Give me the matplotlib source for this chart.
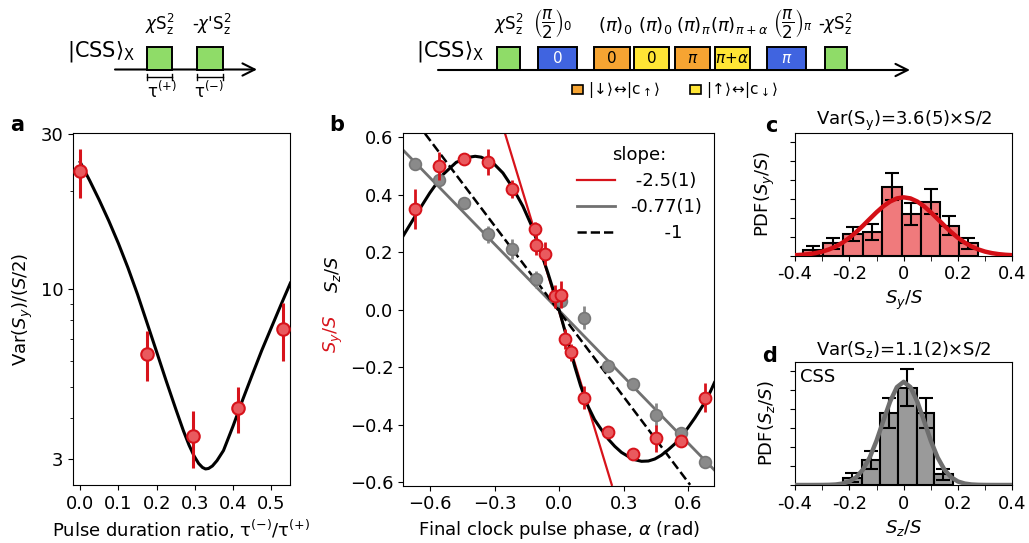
import matplotlib
matplotlib.use("Agg")
from matplotlib import pyplot
from matplotlib.patches import Rectangle
import matplotlib.ticker as ticker
import numpy

# ---------- panel a : squeezing vs pulse duration ratio ----------
a_ratio = [0.0, 0.175, 0.294, 0.412, 0.530]
a_var = [23.1, 6.31, 3.52, 4.31, 7.54]
a_var_lo = [19.1, 5.2, 2.81, 3.61, 6.01]
a_var_hi = [27.0, 7.41, 4.21, 4.99, 9.02]
a_fit_x = [0.0, 0.025, 0.05, 0.075, 0.1, 0.125, 0.15, 0.175, 0.2, 0.225, 0.25, 0.27, 0.285,
           0.298, 0.31, 0.32, 0.328, 0.336, 0.346, 0.358, 0.375, 0.4, 0.425, 0.45, 0.475,
           0.5, 0.525, 0.55]
a_fit_y = [24.55, 21.53, 18.75, 16.18, 13.80, 11.61, 9.62, 7.85, 6.40, 5.21, 4.27, 3.66, 3.30,
           3.06, 2.90, 2.82, 2.79, 2.80, 2.85, 2.96, 3.18, 3.78, 4.55, 5.43, 6.46,
           7.59, 8.91, 10.42]

# ---------- panel b : response to final pulse phase ----------
b_alpha = [-0.670, -0.557, -0.442, -0.332, -0.217, -0.112, -0.109, -0.065, -0.019,
           0.008, 0.028, 0.056, 0.118, 0.229, 0.343, 0.451, 0.567, 0.679]
b_sy = [0.350, 0.500, 0.524, 0.515, 0.420, 0.281, 0.225, 0.195, 0.046,
        0.052, -0.101, -0.148, -0.306, -0.427, -0.502, -0.448, -0.456, -0.306]
b_sy_err = [0.07, 0.05, 0.02, 0.045, 0.03, 0.025, 0.035, 0.04, 0.04,
            0.047, 0.035, 0.03, 0.04, 0.01, 0.02, 0.047, 0.01, 0.052]
bz_alpha = [-0.670, -0.557, -0.442, -0.332, -0.217, -0.107, 0.008,
            0.118, 0.229, 0.343, 0.451, 0.567, 0.679]
b_sz = [0.506, 0.451, 0.372, 0.262, 0.212, 0.106, 0.031,
        -0.028, -0.195, -0.260, -0.366, -0.430, -0.531]
b_sz_err = [0.01, 0.01, 0.02, 0.03, 0.035, 0.03, 0.02,
            0.04, 0.01, 0.015, 0.04, 0.01, 0.015]
b_fit_x = [-0.725, -0.70, -0.664, -0.601, -0.540, -0.478, -0.416, -0.39, -0.362, -0.307,
           -0.261, -0.215, -0.168, -0.130, -0.091, -0.052, -0.013, 0.0, 0.035, 0.073, 0.10,
           0.135, 0.165, 0.197, 0.23, 0.259, 0.29, 0.321, 0.355, 0.383, 0.415, 0.445, 0.475,
           0.507, 0.54, 0.569, 0.60, 0.631, 0.665, 0.693, 0.722]
b_fit_y = [0.256, 0.287, 0.331, 0.406, 0.470, 0.513, 0.531, 0.534, 0.531, 0.511,
           0.476, 0.424, 0.360, 0.296, 0.215, 0.128, 0.035, 0.0, -0.095, -0.198, -0.265,
           -0.337, -0.383, -0.418, -0.452, -0.476, -0.497, -0.511, -0.523, -0.528, -0.527,
           -0.520, -0.507, -0.488, -0.466, -0.441, -0.41, -0.377, -0.337, -0.302, -0.254]
slope_labels = [" -2.5(1)", "-0.77(1)", "      -1"]
red_line_x = [-0.251, 0.245]
red_line_y = [0.613, -0.61]
grey_line_x = [-0.724, 0.721]
grey_line_y = [0.555, -0.558]
ref_line_x = [-0.623, 0.609]
ref_line_y = [0.613, -0.61]

# ---------- panel c / d : histograms ----------
c_edges = [-0.369, -0.296, -0.222, -0.151, -0.079, -0.007, 0.064, 0.134, 0.202, 0.275]
c_pdf = [0.3, 0.65, 1.12, 1.26, 3.63, 2.19, 2.84, 1.58, 0.65]
c_err = [0.22, 0.3, 0.37, 0.42, 0.72, 0.57, 0.67, 0.5, 0.3]
d_edges = [-0.222, -0.155, -0.087, -0.020, 0.048, 0.113, 0.180]
d_pdf = [0.39, 1.32, 3.81, 5.14, 3.81, 0.56]
d_err = [0.25, 0.45, 0.8, 0.95, 0.8, 0.3]
g_x = [-0.4, -0.375, -0.35, -0.325, -0.3, -0.275, -0.25, -0.225, -0.2, -0.175, -0.15,
       -0.125, -0.1, -0.075, -0.05, -0.025, 0.0, 0.025, 0.05, 0.075, 0.1, 0.125, 0.15,
       0.175, 0.2, 0.225, 0.25, 0.275, 0.3, 0.325, 0.35, 0.375, 0.4]
c_gauss = [0.027, 0.048, 0.082, 0.135, 0.214, 0.328, 0.483, 0.687, 0.940, 1.240, 1.577,
           1.933, 2.284, 2.599, 2.851, 3.014, 3.07, 3.014, 2.851, 2.599, 2.284, 1.933, 1.577,
           1.240, 0.940, 0.687, 0.483, 0.328, 0.214, 0.135, 0.082, 0.048, 0.027]
d_gauss = [0.0, 0.0, 0.0, 0.001, 0.003, 0.009, 0.027, 0.075, 0.183, 0.406, 0.81,
           1.45, 2.33, 3.38, 4.40, 5.16, 5.44, 5.16, 4.40, 3.38, 2.33, 1.45, 0.81,
           0.406, 0.183, 0.075, 0.027, 0.009, 0.003, 0.001, 0.0, 0.0, 0.0]
hist_ticks = [-0.4, -0.2, 0, 0.2, 0.4]
hist_ticklabels = ["-0.4", "-0.2", "0", "0.2", "0.4"]

RED = "#d7131b"
RED_FACE = "#e95a5e"
GREEN = "#8fdc68"
BLUE = "#4064e0"
ORANGE = "#f6a432"
YELLOW = "#ffe535"

pyplot.rcParams["font.size"] = 13

fig = pyplot.figure(figsize=(10.29, 5.43), dpi=100)

# ---------- schematic on top (pixel coordinates) ----------
sk = fig.add_axes([0, 0, 1, 1])
sk.set_xlim(0, 1029)
sk.set_ylim(543, 0)
sk.axis("off")

def box(x0, x1, color, text="", tcolor="k"):
    sk.add_patch(Rectangle((x0, 46.7), x1 - x0, 23, facecolor=color, edgecolor="k", lw=1.4, zorder=3))
    if text:
        sk.text((x0 + x1) / 2, 58.5, text, ha="center", va="center", color=tcolor, fontsize=11, zorder=4)

# left sequence
sk.annotate("", xy=(257, 69.5), xytext=(115, 69.5),
            arrowprops=dict(arrowstyle="->", lw=1.5, mutation_scale=22, shrinkA=0, shrinkB=0))
sk.text(67, 52, r"$|\mathrm{CSS}\rangle_\mathrm{X}$", fontsize=15, ha="left", va="center")
box(146.7, 172.3, GREEN)
box(196.7, 222.7, GREEN)
sk.text(160, 24, r"$\chi\mathrm{S}_\mathrm{z}^2$", fontsize=12, ha="center", va="center")
sk.text(212, 24, r"-$\chi$'$\mathrm{S}_\mathrm{z}^2$", fontsize=12, ha="center", va="center")
for x0, x1 in [(146.7, 172.3), (196.7, 222.7)]:
    sk.plot([x0, x1], [76.7, 76.7], color="k", lw=1)
    sk.plot([x0, x0], [74, 79.5], color="k", lw=1)
    sk.plot([x1, x1], [74, 79.5], color="k", lw=1)
sk.text(162, 91, r"$\mathrm{\tau}^{(+)}$", fontsize=12, ha="center", va="center")
sk.text(209, 91, r"$\mathrm{\tau}^{(\mathrm{-})}$", fontsize=12, ha="center", va="center")

# right sequence
sk.annotate("", xy=(910, 70), xytext=(438, 70),
            arrowprops=dict(arrowstyle="->", lw=1.5, mutation_scale=22, shrinkA=0, shrinkB=0))
sk.text(416, 52, r"$|\mathrm{CSS}\rangle_\mathrm{X}$", fontsize=15, ha="left", va="center")
box(496.7, 520, GREEN)
box(538.3, 577.3, BLUE, "0", "w")
box(594.3, 630, ORANGE, "0")
box(634.3, 669.3, YELLOW, "0")
box(675, 710, ORANGE, r"$\pi$")
box(715, 750, YELLOW, r"$\pi\!+\!\alpha$")
box(766.7, 806, BLUE, r"$\pi$", "w")
box(825, 847.3, GREEN)
sk.text(509, 24, r"$\chi\mathrm{S}_\mathrm{z}^2$", fontsize=12, ha="center", va="center")
sk.text(553, 23, r"$\left(\dfrac{\pi}{2}\right)_0$", fontsize=12, ha="center", va="center")
sk.text(615, 25, r"$(\pi)_0$", fontsize=13, ha="center", va="center")
sk.text(655, 25, r"$(\pi)_0$", fontsize=13, ha="center", va="center")
sk.text(693, 25, r"$(\pi)_\pi$", fontsize=13, ha="center", va="center")
sk.text(739, 25, r"$(\pi)_{\pi+\alpha}$", fontsize=13, ha="center", va="center")
sk.text(793, 23, r"$\left(\dfrac{\pi}{2}\right)_\pi$", fontsize=12, ha="center", va="center")
sk.text(835, 24, r"-$\chi\mathrm{S}_\mathrm{z}^2$", fontsize=12, ha="center", va="center")
sk.add_patch(Rectangle((571.7, 85), 11, 9, facecolor=ORANGE, edgecolor="k", lw=1.2))
sk.text(588, 89.5, r"$|\!\downarrow\!\rangle\!\leftrightarrow\!|\mathrm{c}_{\uparrow}\rangle$",
        fontsize=11, ha="left", va="center")
sk.add_patch(Rectangle((690, 85), 11, 9, facecolor=YELLOW, edgecolor="k", lw=1.2))
sk.text(706, 89.5, r"$|\!\uparrow\!\rangle\!\leftrightarrow\!|\mathrm{c}_{\downarrow}\rangle$",
        fontsize=11, ha="left", va="center")

# ---------- panel a ----------
axa = fig.add_axes([0.0709, 0.1068, 0.2109, 0.6483])
axa.plot(a_fit_x, a_fit_y, color="k", lw=2.2, zorder=2)
a_yerr = [numpy.array(a_var) - numpy.array(a_var_lo), numpy.array(a_var_hi) - numpy.array(a_var)]
axa.errorbar(a_ratio, a_var, yerr=a_yerr, fmt="o", ms=9, mfc=RED_FACE, mec=RED, mew=1.5,
             ecolor=RED, elinewidth=2.2, capsize=0, zorder=3)
axa.set_yscale("log")
axa.set_ylim(2.49, 30.2)
axa.set_xlim(-0.019, 0.549)
axa.set_yticks([3, 10, 30])
axa.set_yticklabels(["3", "10", "30"])
axa.yaxis.set_minor_formatter(ticker.NullFormatter())
axa.set_xticks([0.0, 0.1, 0.2, 0.3, 0.4, 0.5])
axa.set_ylabel(r"Var$(S_y)/(S/2)$")
axa.set_xlabel(r"Pulse duration ratio, $\mathrm{\tau}^{(\mathrm{-})}/\mathrm{\tau}^{(+)}$")
fig.text(17, 543 - 125, "a", fontsize=15, fontweight="bold", ha="center", va="center",
         transform=None)

# ---------- panel b ----------
axb = fig.add_axes([0.3919, 0.1055, 0.3022, 0.649])
axb.plot(red_line_x, red_line_y, color=RED, lw=1.6, label=slope_labels[0], zorder=2)
axb.plot(grey_line_x, grey_line_y, color="#707070", lw=2, label=slope_labels[1], zorder=2)
axb.plot(ref_line_x, ref_line_y, color="k", lw=1.8, ls="--", label=slope_labels[2], zorder=2)
axb.plot(b_fit_x, b_fit_y, color="k", lw=2.2, zorder=2)
axb.errorbar(bz_alpha, b_sz, yerr=b_sz_err, fmt="o", ms=8.5, mfc="#8a8a8a", mec="#777777",
             mew=1.2, ecolor="#888888", elinewidth=2, zorder=3)
axb.errorbar(b_alpha, b_sy, yerr=b_sy_err, fmt="o", ms=8.5, mfc=RED_FACE, mec=RED,
             mew=1.4, ecolor=RED, elinewidth=2, zorder=4)
axb.set_xlim(-0.724, 0.721)
axb.set_ylim(-0.613, 0.614)
axb.set_xticks([-0.6, -0.3, 0.0, 0.3, 0.6])
axb.set_yticks([-0.6, -0.4, -0.2, 0.0, 0.2, 0.4, 0.6])
axb.set_xlabel(r"Final clock pulse phase, $\alpha$ (rad)")
leg = axb.legend(title="slope:", frameon=False, loc="upper right", fontsize=13,
                 title_fontsize=13, handlelength=2.1, borderaxespad=0.3, labelspacing=0.45)
axb.text(-0.225, 0.60, r"$S_z/S$", rotation=90, ha="center", va="center",
         transform=axb.transAxes, fontsize=13)
axb.text(-0.225, 0.43, r"$S_y/S$", rotation=90, ha="center", va="center",
         transform=axb.transAxes, fontsize=13, color=RED)
fig.text(337, 543 - 125, "b", fontsize=15, fontweight="bold", ha="center", va="center",
         transform=None)

# ---------- panel c ----------
def hist_panel(ax, edges, pdf, err, color, gauss, gcolor):
    left = numpy.array(edges[:-1])
    width = numpy.diff(edges)
    ax.bar(left, pdf, width=width, align="edge", color=color, edgecolor="k", lw=1.5, zorder=2)
    ax.errorbar(left + width / 2, pdf, yerr=err, fmt="none", ecolor="k", elinewidth=1.5,
                capsize=5, capthick=1.5, zorder=3)
    ax.plot(g_x, gauss, color=gcolor, lw=3.2, zorder=4)
    ax.set_xlim(-0.4, 0.4)
    ax.set_ylim(0, 6.47)
    ax.set_xticks(hist_ticks)
    ax.set_xticklabels(hist_ticklabels)
    ax.set_xticks([-0.3, -0.1, 0.1, 0.3], minor=True)
    ax.tick_params(which="minor", length=3.5)
    ax.set_yticks(range(7))
    ax.set_yticklabels([])

axc = fig.add_axes([0.7726, 0.5291, 0.2112, 0.2265])
hist_panel(axc, c_edges, c_pdf, c_err, "#f07a7c", c_gauss, "#d40f16")
axc.set_title(r"Var(S$_\mathrm{y}$)=3.6(5)×S/2", fontsize=13, pad=5)
axc.set_xlabel(r"$S_y/S$")
axc.set_ylabel(r"PDF$(S_y/S)$", labelpad=6)
fig.text(771, 543 - 126, "c", fontsize=15, fontweight="bold", ha="center", va="center",
         transform=None)

# ---------- panel d ----------
axd = fig.add_axes([0.7726, 0.1068, 0.2112, 0.226])
hist_panel(axd, d_edges, d_pdf, d_err, "#9a9a9a", d_gauss, "#6e6e6e")
axd.set_title(r"Var(S$_\mathrm{z}$)=1.1(2)×S/2", fontsize=13, pad=5)
axd.set_xlabel(r"$S_z/S$")
axd.set_ylabel(r"PDF$(S_z/S)$", labelpad=6)
axd.text(0.023, 0.95, "CSS", transform=axd.transAxes, ha="left", va="top", fontsize=13)
fig.text(770, 543 - 356, "d", fontsize=15, fontweight="bold", ha="center", va="center",
         transform=None)

fig.savefig("out.png")
